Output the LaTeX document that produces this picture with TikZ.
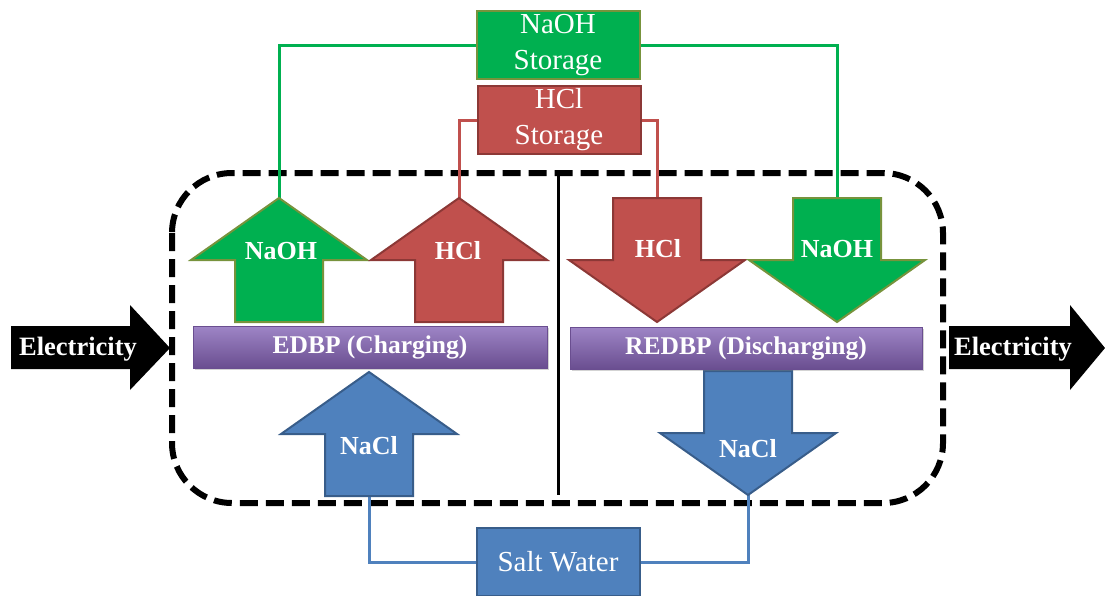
\documentclass[tikz,border=0pt]{standalone}
\usepackage{fontspec}
\setmainfont{Liberation Serif}
\usepackage{xcolor}
\definecolor{naohgreen}{HTML}{00B050}
\definecolor{naohborder}{HTML}{77933C}
\definecolor{hclred}{HTML}{C0504D}
\definecolor{hclborder}{HTML}{8C3836}
\definecolor{naclblue}{HTML}{4F81BD}
\definecolor{naclborder}{HTML}{385D8A}
\definecolor{bartop}{HTML}{9E85C6}
\definecolor{barbottom}{HTML}{6A4E90}
\usepackage{tikz}
\usetikzlibrary{shadows}

% block arrows, tip at (#2,#3)
\newcommand{\chemup}[3]{%
  \draw[#1] (#2,#3) -- ++(88,62) -- ++(-44,0) -- ++(0,62) -- ++(-88,0) -- ++(0,-62) -- ++(-44,0) -- cycle;}
\newcommand{\chemdown}[3]{%
  \draw[#1] (#2,#3) -- ++(88,-62) -- ++(-44,0) -- ++(0,-62) -- ++(-88,0) -- ++(0,62) -- ++(-44,0) -- cycle;}

\begin{document}
\begin{tikzpicture}[x=1pt, y=-1pt,
    storebox/.style={draw, line width=2pt, minimum width=163pt, minimum height=68pt,
      inner sep=0pt, align=center, text=white, font=\fontsize{29}{36}\selectfont},
    barbox/.style={minimum width=354pt, minimum height=42pt, inner sep=0pt,
      top color=bartop, bottom color=barbottom, draw=barbottom, line width=0.5pt,
      text=white, font=\fontsize{25.5}{30}\selectfont\bfseries,
      drop shadow={shadow xshift=2pt, shadow yshift=-2pt, opacity=0.35}},
    arrtext/.style={text=white, font=\fontsize{26}{30}\selectfont\bfseries},
    greenarr/.style={fill=naohgreen, draw=naohborder, line width=2pt},
    redarr/.style={fill=hclred, draw=hclborder, line width=2pt},
    bluearr/.style={fill=naclblue, draw=naclborder, line width=2pt},
    pipe/.style={line width=3pt}
]
  \useasboundingbox (0,0) rectangle (1105,595);

  % process boundary
  \draw[line width=6pt, dash pattern=on 18pt off 8pt, rounded corners=60pt] (172,173) rectangle (943,503);
  \draw[line width=3pt] (558,173) -- (558,495);

  % storage tanks
  \node[storebox, fill=naohgreen, draw=naohborder] (naohst) at (558,45) {NaOH\\Storage};
  \node[storebox, fill=hclred, draw=hclborder] (hclst) at (559,120) {HCl\\Storage};
  \node[storebox, fill=naclblue, draw=naclborder] (salt) at (558,562) {Salt Water};

  % arrow ends
  \coordinate (naohin) at (279,198);
  \coordinate (hclin) at (459,198);
  \coordinate (hclout) at (657,198);
  \coordinate (naohout) at (837,198);
  \coordinate (naclin) at (369,495);
  \coordinate (naclout) at (748,495);

  % pipes
  \draw[pipe, naohgreen] (naohin) |- (naohst.west);
  \draw[pipe, naohgreen] (naohst.east) -| (naohout);
  \draw[pipe, hclred] (hclin) |- (hclst.west);
  \draw[pipe, hclred] (hclst.east) -| (hclout);
  \draw[pipe, naclblue] (naclin) |- (salt.west);
  \draw[pipe, naclblue] (salt.east) -| (naclout);

  % charging side
  \chemup{greenarr}{279}{198}
  \chemup{redarr}{459}{198}
  \chemup{bluearr}{369}{372}
  \node[barbox] (edbp) at (370,347) {EDBP (Charging)};
  \node[arrtext] (naohup) at (281,251) {NaOH};
  \node[arrtext] (hclup) at (458,251) {HCl};
  \node[arrtext] (naclup) at (369,446) {NaCl};

  % discharging side
  \chemdown{redarr}{657}{322}
  \chemdown{greenarr}{837}{322}
  \chemdown{bluearr}{748}{495}
  \node[barbox, minimum width=352pt] (redbp) at (746,348) {REDBP (Discharging)};
  \node[arrtext] (hcldown) at (658,249) {HCl};
  \node[arrtext] (naohdown) at (837,249) {NaOH};
  \node[arrtext] (nacldown) at (748,449) {NaCl};

  % electricity in and out
  \fill (11,326) -- (130,326) -- (130,305) -- (170,348) -- (130,390) -- (130,369) -- (11,369) -- cycle;
  \fill (949,326) -- (1070,326) -- (1070,305) -- (1105,348) -- (1070,390) -- (1070,369) -- (949,369) -- cycle;
  \node[arrtext, font=\fontsize{26.5}{30}\selectfont\bfseries] (elecin) at (78,349) {Electricity};
  \node[arrtext, font=\fontsize{26.5}{30}\selectfont\bfseries] (elecout) at (1013,349) {Electricity};

\end{tikzpicture}
\end{document}
